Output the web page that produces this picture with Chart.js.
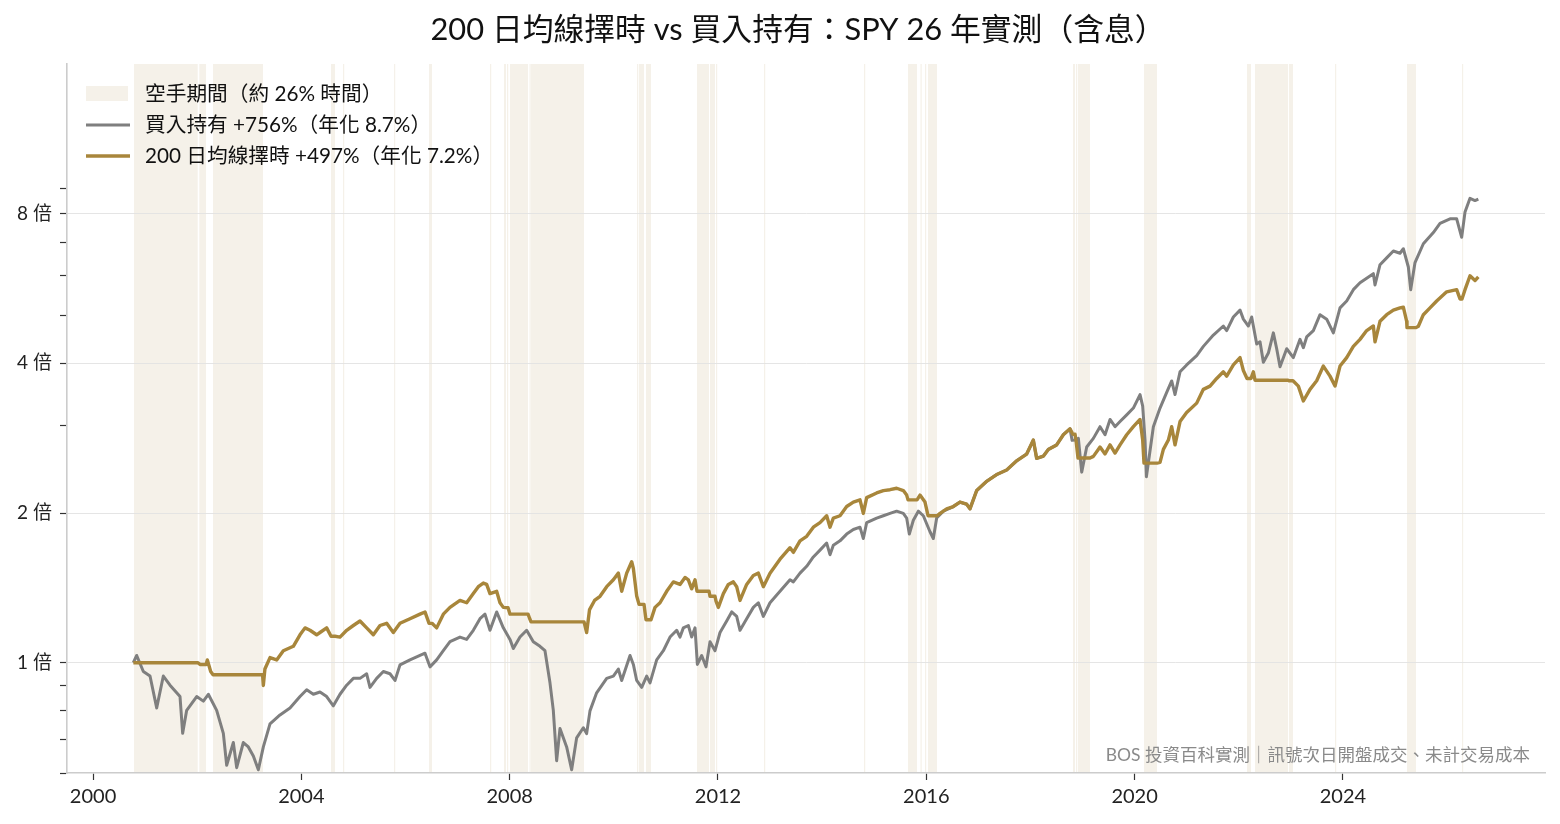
<!DOCTYPE html>
<html>
<head>
<meta charset="utf-8">
<script src="https://cdn.jsdelivr.net/npm/chart.js@4.4.1/dist/chart.umd.min.js"></script>
<style>
    html, body { margin: 0; padding: 0; background: #ffffff; }
    #wrap { width: 1560px; height: 824px; }
</style>
</head>
<body>
<div id="wrap"><canvas id="chart" width="1560" height="824"></canvas></div>
<script>
// values (x in decimal years, y in multiples of the start value)
const holdYears = [
    2000.774, 2000.838, 2000.966, 2001.094, 2001.222, 2001.350, 2001.478, 2001.670, 2001.721, 2001.798,
    2001.990, 2002.118, 2002.214, 2002.374, 2002.502, 2002.566, 2002.694, 2002.758, 2002.886, 2002.982,
    2003.078, 2003.174, 2003.270, 2003.398, 2003.590, 2003.782, 2003.974, 2004.102, 2004.230, 2004.358,
    2004.486, 2004.614, 2004.742, 2004.870, 2004.998, 2005.126, 2005.254, 2005.318, 2005.446, 2005.574,
    2005.702, 2005.798, 2005.894, 2006.086, 2006.278, 2006.374, 2006.470, 2006.598, 2006.726, 2006.854,
    2007.046, 2007.174, 2007.302, 2007.430, 2007.526, 2007.622, 2007.750, 2007.878, 2008.006, 2008.070,
    2008.198, 2008.326, 2008.454, 2008.582, 2008.678, 2008.774, 2008.838, 2008.902, 2008.966, 2009.094,
    2009.190, 2009.286, 2009.414, 2009.478, 2009.542, 2009.670, 2009.863, 2009.991, 2010.087, 2010.151,
    2010.311, 2010.375, 2010.439, 2010.535, 2010.631, 2010.695, 2010.823, 2010.951, 2011.079, 2011.207,
    2011.271, 2011.335, 2011.431, 2011.495, 2011.559, 2011.604, 2011.687, 2011.770, 2011.847, 2011.943,
    2012.039, 2012.167, 2012.263, 2012.359, 2012.423, 2012.551, 2012.679, 2012.775, 2012.871, 2012.999,
    2013.191, 2013.383, 2013.447, 2013.575, 2013.703, 2013.831, 2013.959, 2014.087, 2014.151, 2014.215,
    2014.343, 2014.471, 2014.599, 2014.727, 2014.791, 2014.855, 2015.047, 2015.175, 2015.303, 2015.431,
    2015.559, 2015.623, 2015.674, 2015.751, 2015.847, 2015.943, 2016.071, 2016.135, 2016.199, 2016.327,
    2016.519, 2016.647, 2016.775, 2016.839, 2016.967, 2017.159, 2017.351, 2017.543, 2017.735, 2017.927,
    2018.055, 2018.119, 2018.247, 2018.343, 2018.503, 2018.631, 2018.759, 2018.800, 2018.856, 2018.920,
    2018.984, 2019.080, 2019.208, 2019.336, 2019.432, 2019.528, 2019.624, 2019.720, 2019.848, 2019.976,
    2020.104, 2020.155, 2020.200, 2020.226, 2020.360, 2020.488, 2020.616, 2020.712, 2020.776, 2020.872,
    2020.999, 2021.192, 2021.320, 2021.512, 2021.704, 2021.768, 2021.896, 2022.024, 2022.088, 2022.184,
    2022.248, 2022.344, 2022.408, 2022.472, 2022.568, 2022.664, 2022.728, 2022.792, 2022.920, 2023.048,
    2023.176, 2023.240, 2023.304, 2023.432, 2023.560, 2023.688, 2023.816, 2023.944, 2024.072, 2024.200,
    2024.328, 2024.456, 2024.584, 2024.616, 2024.712, 2024.840, 2024.968, 2025.096, 2025.160, 2025.256,
    2025.301, 2025.384, 2025.544, 2025.736, 2025.864, 2026.056, 2026.184, 2026.280, 2026.344, 2026.440,
    2026.536, 2026.600
];
const holdValues = [
    1.00, 1.034, 0.960, 0.940, 0.811, 0.940, 0.901, 0.855, 0.721, 0.802,
    0.855, 0.837, 0.864, 0.802, 0.721, 0.622, 0.691, 0.615, 0.691, 0.677,
    0.649, 0.609, 0.677, 0.753, 0.785, 0.811, 0.855, 0.882, 0.864, 0.873,
    0.855, 0.819, 0.864, 0.901, 0.930, 0.930, 0.950, 0.892, 0.930, 0.960,
    0.950, 0.921, 0.990, 1.013, 1.034, 1.045, 0.981, 1.013, 1.057, 1.102,
    1.126, 1.114, 1.162, 1.226, 1.252, 1.162, 1.265, 1.175, 1.114, 1.068,
    1.126, 1.162, 1.102, 1.079, 1.057, 0.911, 0.802, 0.635, 0.737, 0.677,
    0.609, 0.706, 0.740, 0.720, 0.800, 0.870, 0.930, 0.940, 0.971, 0.921,
    1.034, 0.992, 0.921, 0.892, 0.940, 0.911, 1.013, 1.057, 1.126, 1.162,
    1.126, 1.175, 1.188, 1.126, 1.175, 0.992, 1.034, 0.981, 1.102, 1.057,
    1.150, 1.213, 1.265, 1.239, 1.162, 1.226, 1.292, 1.320, 1.239, 1.320,
    1.392, 1.468, 1.454, 1.514, 1.563, 1.632, 1.684, 1.740, 1.649, 1.722,
    1.758, 1.814, 1.853, 1.873, 1.777, 1.913, 1.954, 1.975, 1.996, 2.017,
    1.996, 1.954, 1.814, 1.934, 2.017, 1.975, 1.834, 1.777, 1.954, 2.017,
    2.061, 2.104, 2.083, 2.039, 2.219, 2.316, 2.390, 2.441, 2.547, 2.628,
    2.804, 2.576, 2.602, 2.685, 2.742, 2.874, 2.954, 2.800, 2.804, 2.826,
    2.417, 2.715, 2.826, 2.983, 2.874, 3.085, 2.983, 3.055, 3.151, 3.252,
    3.462, 3.282, 2.804, 2.366, 2.983, 3.252, 3.498, 3.687, 3.462, 3.846,
    3.971, 4.147, 4.327, 4.559, 4.755, 4.656, 4.958, 5.118, 4.909, 4.755,
    4.958, 4.374, 4.420, 4.019, 4.195, 4.607, 4.280, 3.937, 4.280, 4.108,
    4.470, 4.300, 4.520, 4.656, 5.011, 4.909, 4.607, 5.172, 5.339, 5.627,
    5.810, 5.933, 6.060, 5.750, 6.316, 6.520, 6.730, 6.660, 6.800, 6.250,
    5.627, 6.380, 6.960, 7.330, 7.650, 7.810, 7.810, 7.170, 8.060, 8.590,
    8.500, 8.560
];

const timingYears = [
    2000.774, 2002.010, 2002.054, 2002.170, 2002.195, 2002.259, 2002.304, 2003.255, 2003.270, 2003.300,
    2003.398, 2003.526, 2003.654, 2003.846, 2003.974, 2004.070, 2004.166, 2004.294, 2004.358, 2004.486,
    2004.570, 2004.647, 2004.742, 2004.870, 2004.998, 2005.126, 2005.254, 2005.382, 2005.510, 2005.638,
    2005.766, 2005.894, 2006.086, 2006.278, 2006.374, 2006.452, 2006.509, 2006.598, 2006.726, 2006.854,
    2007.046, 2007.174, 2007.302, 2007.398, 2007.494, 2007.558, 2007.622, 2007.750, 2007.814, 2007.878,
    2007.969, 2008.007, 2008.353, 2008.380, 2008.410, 2009.428, 2009.478, 2009.534, 2009.630, 2009.735,
    2009.863, 2009.991, 2010.087, 2010.151, 2010.247, 2010.343, 2010.375, 2010.439, 2010.484, 2010.580,
    2010.600, 2010.618, 2010.714, 2010.791, 2010.887, 2011.015, 2011.143, 2011.271, 2011.367, 2011.431,
    2011.495, 2011.559, 2011.597, 2011.828, 2011.847, 2011.943, 2011.962, 2012.007, 2012.103, 2012.199,
    2012.295, 2012.359, 2012.423, 2012.551, 2012.679, 2012.775, 2012.871, 2012.999, 2013.191, 2013.383,
    2013.447, 2013.575, 2013.703, 2013.831, 2013.959, 2014.087, 2014.151, 2014.215, 2014.343, 2014.471,
    2014.599, 2014.727, 2014.791, 2014.855, 2015.047, 2015.175, 2015.303, 2015.431, 2015.559, 2015.623,
    2015.649, 2015.822, 2015.879, 2015.975, 2016.033, 2016.206, 2016.263, 2016.391, 2016.519, 2016.647,
    2016.775, 2016.839, 2016.967, 2017.159, 2017.351, 2017.543, 2017.735, 2017.927, 2018.055, 2018.119,
    2018.247, 2018.343, 2018.503, 2018.631, 2018.759, 2018.800, 2018.817, 2018.856, 2018.875, 2018.913,
    2019.144, 2019.208, 2019.336, 2019.432, 2019.528, 2019.624, 2019.720, 2019.848, 2019.976, 2020.104,
    2020.155, 2020.180, 2020.430, 2020.488, 2020.552, 2020.648, 2020.712, 2020.776, 2020.872, 2020.999,
    2021.192, 2021.320, 2021.448, 2021.576, 2021.704, 2021.768, 2021.896, 2022.024, 2022.088, 2022.158,
    2022.235, 2022.280, 2022.312, 2022.946, 2022.965, 2023.041, 2023.144, 2023.240, 2023.368, 2023.496,
    2023.624, 2023.752, 2023.848, 2023.944, 2024.072, 2024.200, 2024.328, 2024.456, 2024.584, 2024.616,
    2024.712, 2024.840, 2024.968, 2025.096, 2025.160, 2025.224, 2025.230, 2025.403, 2025.448, 2025.544,
    2025.672, 2025.800, 2025.992, 2026.184, 2026.248, 2026.286, 2026.344, 2026.440, 2026.536, 2026.600
];
const timingValues = [
    1.00, 1.00, 0.992, 0.992, 1.013, 0.960, 0.946, 0.946, 0.900, 0.971,
    1.024, 1.013, 1.057, 1.079, 1.138, 1.175, 1.162, 1.138, 1.150, 1.175,
    1.130, 1.130, 1.126, 1.162, 1.188, 1.213, 1.175, 1.138, 1.188, 1.200,
    1.150, 1.200, 1.226, 1.252, 1.265, 1.200, 1.200, 1.175, 1.252, 1.292,
    1.334, 1.320, 1.377, 1.422, 1.446, 1.437, 1.377, 1.392, 1.320, 1.292,
    1.290, 1.252, 1.252, 1.230, 1.208, 1.208, 1.150, 1.279, 1.334, 1.360,
    1.422, 1.468, 1.514, 1.392, 1.514, 1.596, 1.548, 1.362, 1.310, 1.310,
    1.260, 1.220, 1.220, 1.292, 1.320, 1.392, 1.454, 1.437, 1.484, 1.468,
    1.408, 1.468, 1.392, 1.392, 1.360, 1.360, 1.330, 1.292, 1.377, 1.437,
    1.454, 1.422, 1.334, 1.437, 1.498, 1.514, 1.422, 1.514, 1.615, 1.703,
    1.667, 1.758, 1.795, 1.873, 1.913, 1.975, 1.873, 1.954, 1.975, 2.061,
    2.104, 2.126, 1.996, 2.148, 2.195, 2.219, 2.228, 2.243, 2.219, 2.173,
    2.126, 2.126, 2.173, 2.104, 1.975, 1.975, 1.996, 2.039, 2.061, 2.104,
    2.083, 2.039, 2.219, 2.316, 2.390, 2.441, 2.547, 2.628, 2.804, 2.576,
    2.602, 2.685, 2.742, 2.874, 2.954, 2.900, 2.880, 2.880, 2.800, 2.580,
    2.580, 2.600, 2.715, 2.630, 2.742, 2.640, 2.742, 2.874, 2.983, 3.085,
    2.804, 2.520, 2.520, 2.528, 2.685, 2.804, 2.983, 2.742, 3.055, 3.186,
    3.327, 3.546, 3.600, 3.730, 3.846, 3.770, 3.971, 4.108, 3.870, 3.730,
    3.730, 3.846, 3.700, 3.700, 3.690, 3.690, 3.600, 3.360, 3.546, 3.690,
    3.950, 3.770, 3.600, 3.950, 4.108, 4.327, 4.470, 4.656, 4.755, 4.420,
    4.860, 5.011, 5.118, 5.172, 5.190, 4.860, 4.720, 4.720, 4.750, 5.011,
    5.172, 5.339, 5.570, 5.627, 5.390, 5.390, 5.627, 6.000, 5.870, 5.970
];

// out-of-market periods (decimal years)
const outStarts = [
    2000.787, 2002.041, 2002.304, 2004.570, 2004.800, 2005.780, 2006.452, 2007.623, 2007.892, 2007.949,
    2008.007, 2008.381, 2008.410, 2010.446, 2010.484, 2010.618, 2011.597, 2011.847, 2011.962, 2012.884,
    2014.804, 2015.649, 2015.889, 2015.975, 2016.033, 2018.817, 2018.875, 2018.913, 2020.180, 2022.158,
    2022.312, 2022.965, 2023.848, 2025.230, 2026.286
];
const outEnds = [
    2002.010, 2002.170, 2003.264, 2004.647, 2004.815, 2005.795, 2006.509, 2007.638, 2007.930, 2007.969,
    2008.353, 2008.396, 2009.428, 2010.461, 2010.580, 2010.714, 2011.828, 2011.943, 2011.977, 2012.899,
    2014.819, 2015.822, 2015.904, 2015.990, 2016.206, 2018.856, 2018.894, 2019.144, 2020.430, 2022.235,
    2022.946, 2023.041, 2023.863, 2025.403, 2026.301
];

const yearTicks = [2000, 2004, 2008, 2012, 2016, 2020, 2024];
const yTicks = [0.6, 0.7, 0.8, 0.9, 1, 2, 3, 4, 5, 6, 7, 8, 9];
const yLabelled = [1, 2, 4, 8];

const titleText = "200 日均線擇時 vs 買入持有：SPY 26 年實測（含息）";
const legendLabels = [
    "空手期間（約 26% 時間）",
    "買入持有 +756%（年化 8.7%）",
    "200 日均線擇時 +497%（年化 7.2%）",
];
const noteText = "BOS 投資百科實測｜訊號次日開盤成交、未計交易成本";

const FONT = 'Lato, "Noto Sans CJK TC", sans-serif';
const HOLD_COLOR = "#7f7f7f";
const TIMING_COLOR = "#a8863b";
const SHADE_COLOR = "#f5f1e9";

function toPoints(xs, ys) {
    return xs.map((x, i) => ({ x: x, y: ys[i] }));
}

const shadePlugin = {
    id: "shade",
    beforeDraw(chart) {
        const ctx = chart.ctx;
        const area = chart.chartArea;
        const xs = chart.scales.x;
        ctx.save();
        ctx.fillStyle = SHADE_COLOR;
        outStarts.forEach((s, i) => {
            const x0 = xs.getPixelForValue(s);
            const x1 = xs.getPixelForValue(outEnds[i]);
            ctx.fillRect(x0, area.top, Math.max(x1 - x0, 1.2), area.bottom - area.top);
        });
        ctx.restore();
    },
};

const textPlugin = {
    id: "texts",
    afterDraw(chart) {
        const ctx = chart.ctx;
        ctx.save();
        // title
        ctx.fillStyle = "#111111";
        ctx.font = "30.8px " + FONT;
        ctx.textAlign = "center";
        ctx.textBaseline = "middle";
        ctx.fillText(titleText, 798, 30);

        // legend
        const rows = [94, 125, 156];
        ctx.textAlign = "left";
        ctx.font = "20.7px " + FONT;
        ctx.fillStyle = SHADE_COLOR;
        ctx.fillRect(86, 86, 42, 15);
        const ds = chart.data.datasets;
        [ds[1], ds[0]].forEach((d, i) => {
            ctx.strokeStyle = d.borderColor;
            ctx.lineWidth = d.borderWidth;
            ctx.beginPath();
            ctx.moveTo(86, rows[i + 1]);
            ctx.lineTo(130, rows[i + 1]);
            ctx.stroke();
        });
        ctx.fillStyle = "#111111";
        legendLabels.forEach((t, i) => ctx.fillText(t, 145, rows[i]));

        // note
        ctx.fillStyle = "#8a8a8a";
        ctx.font = "17.5px " + FONT;
        ctx.textAlign = "right";
        ctx.fillText(noteText, 1530, 755);
        ctx.restore();
    },
};

new Chart(document.getElementById("chart"), {
    type: "line",
    data: {
        datasets: [
            {
                label: legendLabels[2],
                data: toPoints(timingYears, timingValues),
                borderColor: TIMING_COLOR,
                borderWidth: 3.4,
                pointRadius: 0,
                tension: 0,
                borderJoinStyle: "round",
                order: 0,
            },
            {
                label: legendLabels[1],
                data: toPoints(holdYears, holdValues),
                borderColor: HOLD_COLOR,
                borderWidth: 3,
                pointRadius: 0,
                tension: 0,
                borderJoinStyle: "round",
                order: 1,
            },
        ],
    },
    options: {
        responsive: false,
        animation: false,
        events: [],
        layout: { padding: { top: 64, right: 15, left: 0, bottom: 0 } },
        plugins: {
            legend: { display: false },
            title: { display: false },
            tooltip: { enabled: false },
        },
        scales: {
            x: {
                type: "linear",
                min: 1999.5,
                max: 2027.88,
                afterFit(scale) { scale.height = 51; },
                afterBuildTicks(scale) {
                    scale.ticks = yearTicks.map((v) => ({ value: v }));
                },
                ticks: {
                    autoSkip: false,
                    maxRotation: 0,
                    padding: 5,
                    color: "#222222",
                    font: { family: FONT, size: 20 },
                    callback: (v) => String(v),
                },
                grid: {
                    drawOnChartArea: false,
                    drawTicks: true,
                    tickLength: 7,
                    tickColor: "#333333",
                    tickWidth: 1.2,
                },
                border: { color: "#cccccc", width: 1.6 },
            },
            y: {
                type: "logarithmic",
                min: 0.604,
                max: 16,
                afterFit(scale) { scale.width = 67; },
                afterBuildTicks(scale) {
                    scale.ticks = yTicks.map((v) => ({ value: v }));
                },
                ticks: {
                    autoSkip: false,
                    padding: 8,
                    color: "#222222",
                    font: { family: FONT, size: 19 },
                    callback: (v) => (yLabelled.includes(v) ? v + " 倍" : ""),
                },
                grid: {
                    color: (c) => (c.tick && yLabelled.includes(c.tick.value) ? "#e2e2e2" : "rgba(0,0,0,0)"),
                    lineWidth: 0.9,
                    drawTicks: true,
                    tickLength: 7,
                    tickColor: "#333333",
                    tickWidth: 1.2,
                },
                border: { color: "#cccccc", width: 1.6 },
            },
        },
    },
    plugins: [shadePlugin, textPlugin],
});
</script>
</body>
</html>
